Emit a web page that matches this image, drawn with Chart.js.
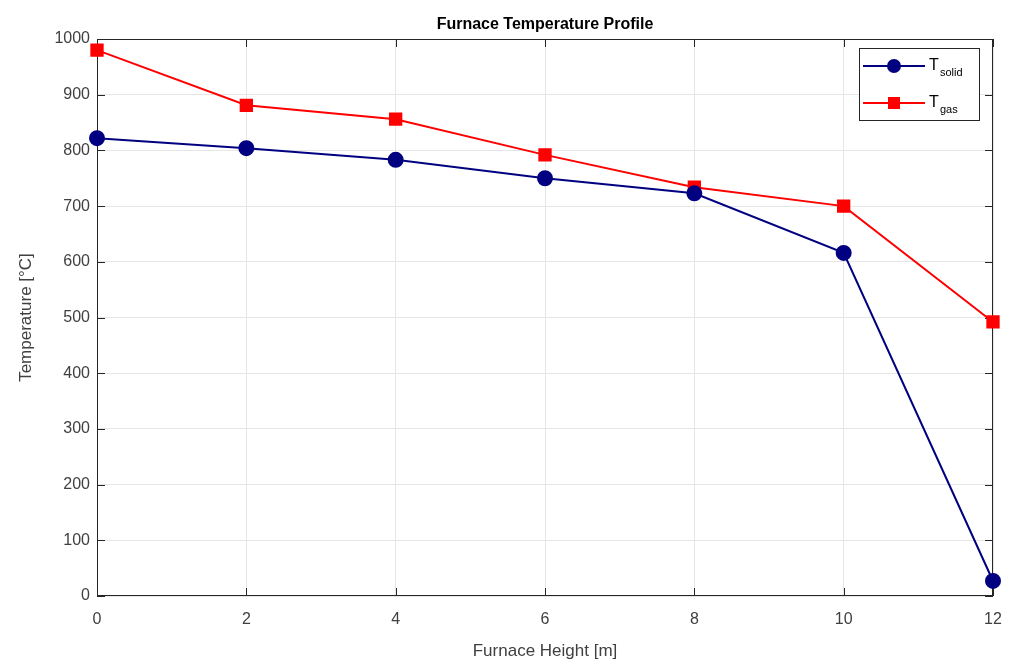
<!DOCTYPE html>
<html>
<head>
<meta charset="utf-8">
<script src="https://cdn.jsdelivr.net/npm/chart.js@4/dist/chart.umd.min.js"></script>
<style>
  html, body { margin: 0; padding: 0; background: #fff; }
  #wrap { width: 1010px; height: 662px; }
</style>
</head>
<body>
<div id="wrap"><canvas id="miGrafico"></canvas></div>
<script>
// furnace profile data
const heights = [0, 2, 4, 6, 8, 10, 12];
const tSolid = [822, 804, 783, 750, 723, 616, 27];
const tGas = [980, 881, 856, 792, 734, 700, 492];
const xTicks = [0, 2, 4, 6, 8, 10, 12];
const yTicks = [0, 100, 200, 300, 400, 500, 600, 700, 800, 900, 1000];

const FONT = '"Liberation Sans", Arial, sans-serif';
const NAVY = '#000080';
const RED = '#ff0000';

// box around the axes with inward ticks on all four sides, plus title
const boxPlugin = {
  id: 'box',
  beforeDatasetsDraw(chart) {
    const c = chart.ctx, a = chart.chartArea;
    const x = chart.scales.x, y = chart.scales.y;
    c.save();
    c.strokeStyle = '#262626';
    c.lineWidth = 1;
    c.strokeRect(a.left + 0.5, a.top + 0.5, a.right - a.left - 1, a.bottom - a.top - 1);
    c.beginPath();
    xTicks.forEach(v => {
      const px = Math.round(x.getPixelForValue(v)) + 0.5;
      c.moveTo(px, a.bottom); c.lineTo(px, a.bottom - 8);
      c.moveTo(px, a.top); c.lineTo(px, a.top + 8);
    });
    yTicks.forEach(v => {
      const py = Math.round(y.getPixelForValue(v)) + 0.5;
      c.moveTo(a.left, py); c.lineTo(a.left + 8, py);
      c.moveTo(a.right, py); c.lineTo(a.right - 8, py);
    });
    c.stroke();

    c.fillStyle = '#000';
    c.font = 'bold 16px ' + FONT;
    c.textAlign = 'center';
    c.textBaseline = 'bottom';
    c.fillText('Furnace Temperature Profile', (a.left + a.right) / 2, a.top - 6);
    c.restore();
  }
};

// legend with subscripts
const legendPlugin = {
  id: 'subLegend',
  afterDraw(chart) {
    const c = chart.ctx;
    const bx = 859, by = 48, bw = 120, bh = 72;
    c.save();
    c.fillStyle = '#fff';
    c.fillRect(bx, by, bw, bh);
    c.strokeStyle = '#262626';
    c.lineWidth = 1;
    c.strokeRect(bx + 0.5, by + 0.5, bw, bh);

    const rows = [
      { y: 66, color: NAVY, marker: 'circle', sub: 'solid' },
      { y: 103, color: RED, marker: 'square', sub: 'gas' }
    ];
    rows.forEach(r => {
      c.strokeStyle = r.color;
      c.lineWidth = 2;
      c.beginPath();
      c.moveTo(863, r.y); c.lineTo(925, r.y);
      c.stroke();
      c.fillStyle = r.color;
      if (r.marker === 'circle') {
        c.beginPath(); c.arc(894, r.y, 7, 0, Math.PI * 2); c.fill();
      } else {
        c.fillRect(888, r.y - 6, 12, 12);
      }
      c.fillStyle = '#000';
      c.textAlign = 'left';
      c.textBaseline = 'alphabetic';
      c.font = '16px ' + FONT;
      c.fillText('T', 929, r.y + 4);
      c.font = '11px ' + FONT;
      c.fillText(r.sub, 940, r.y + 10);
    });
    c.restore();
  }
};

const ctx = document.getElementById('miGrafico');

new Chart(ctx, {
  type: 'line',
  data: {
    datasets: [{
      label: 'T_solid',
      data: heights.map((h, i) => ({ x: h, y: tSolid[i] })),
      borderColor: NAVY,
      backgroundColor: NAVY,
      borderWidth: 2,
      pointStyle: 'circle',
      pointRadius: 7,
      pointHoverRadius: 7,
      tension: 0,
      clip: false
    }, {
      label: 'T_gas',
      data: heights.map((h, i) => ({ x: h, y: tGas[i] })),
      borderColor: RED,
      backgroundColor: RED,
      borderWidth: 2,
      pointStyle: 'rect',
      pointRadius: 8,
      pointHoverRadius: 8,
      tension: 0,
      clip: false
    }]
  },
  options: {
    responsive: true,
    maintainAspectRatio: false,
    animation: false,
    layout: { padding: { top: 39, right: 17, left: 12, bottom: 0 } },
    plugins: {
      legend: { display: false },
      tooltip: { enabled: false }
    },
    scales: {
      x: {
        type: 'linear',
        min: 0,
        max: 12,
        afterBuildTicks: s => { s.ticks = xTicks.map(v => ({ value: v })); },
        afterFit: s => { s.height = 66; s.paddingLeft = 0; s.paddingRight = 0; },
        border: { display: false },
        grid: { color: '#e6e6e6', drawTicks: false },
        ticks: { color: '#404040', font: { family: FONT, size: 16 }, padding: 14 },
        title: {
          display: true,
          text: 'Furnace Height [m]',
          color: '#404040',
          font: { family: FONT, size: 17 },
          padding: { top: 4, bottom: 0 }
        }
      },
      y: {
        min: 0,
        max: 1000,
        afterBuildTicks: s => { s.ticks = yTicks.map(v => ({ value: v })); },
        afterFit: s => { s.width = 85; s.paddingTop = 0; s.paddingBottom = 0; },
        border: { display: false },
        grid: { color: '#e6e6e6', drawTicks: false },
        ticks: {
          color: '#404040',
          font: { family: FONT, size: 16 },
          padding: 7,
          callback: v => String(v)
        },
        title: {
          display: true,
          text: 'Temperature [°C]',
          color: '#404040',
          font: { family: FONT, size: 17 },
          padding: { bottom: 6 }
        }
      }
    }
  },
  plugins: [boxPlugin, legendPlugin]
});
</script>
</body>
</html>
